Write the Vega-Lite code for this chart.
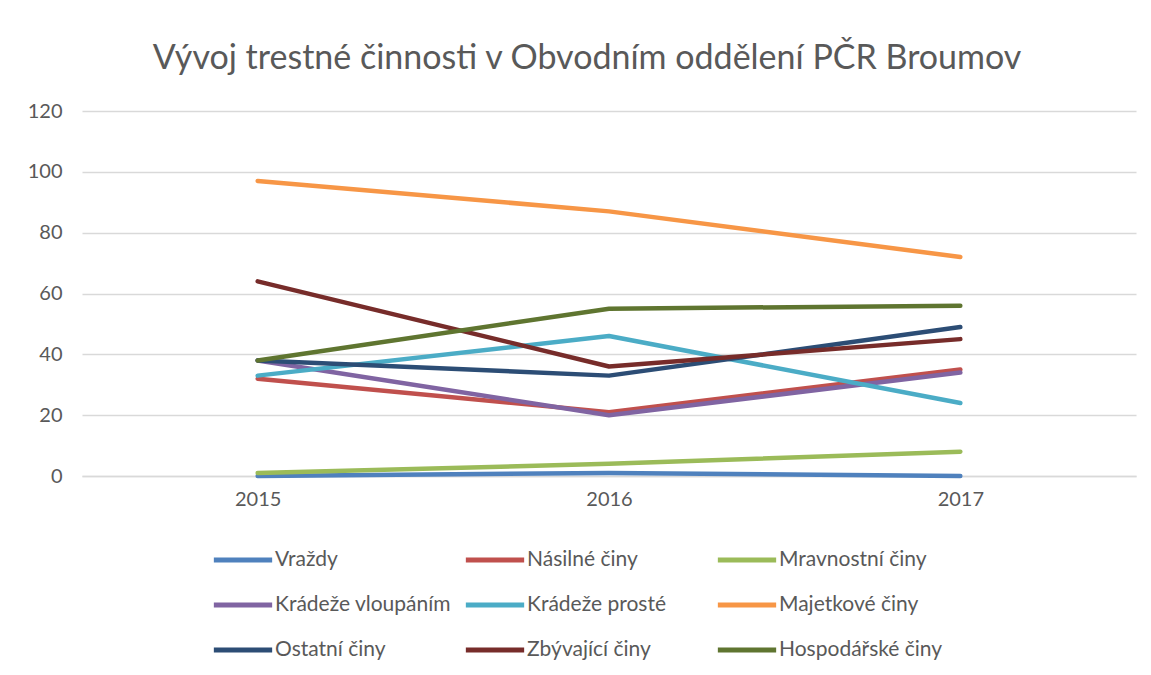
{
  "$schema": "https://vega.github.io/schema/vega-lite/v6.json",
  "autosize": "none",
  "width": 1054,
  "height": 365,
  "padding": {"left": 82, "top": 111, "right": 15, "bottom": 199},
  "background": "white",
  "config": {
    "font": "Lato",
    "view": {"stroke": null}
  },
  "title": {
    "text": "Vývoj trestné činnosti v Obvodním oddělení PČR Broumov",
    "fontSize": 34,
    "fontWeight": "normal",
    "color": "#595959",
    "anchor": "middle",
    "dx": -22,
    "offset": 25,
    "font": "Lato"
  },
  "data": {
    "values": [
      {"rok": "2015", "druh": "Vraždy", "pocet": 0},
      {"rok": "2016", "druh": "Vraždy", "pocet": 1},
      {"rok": "2017", "druh": "Vraždy", "pocet": 0},
      {"rok": "2015", "druh": "Násilné činy", "pocet": 32},
      {"rok": "2016", "druh": "Násilné činy", "pocet": 21},
      {"rok": "2017", "druh": "Násilné činy", "pocet": 35},
      {"rok": "2015", "druh": "Mravnostní činy", "pocet": 1},
      {"rok": "2016", "druh": "Mravnostní činy", "pocet": 4},
      {"rok": "2017", "druh": "Mravnostní činy", "pocet": 8},
      {"rok": "2015", "druh": "Krádeže vloupáním", "pocet": 38},
      {"rok": "2016", "druh": "Krádeže vloupáním", "pocet": 20},
      {"rok": "2017", "druh": "Krádeže vloupáním", "pocet": 34},
      {"rok": "2015", "druh": "Krádeže prosté", "pocet": 33},
      {"rok": "2016", "druh": "Krádeže prosté", "pocet": 46},
      {"rok": "2017", "druh": "Krádeže prosté", "pocet": 24},
      {"rok": "2015", "druh": "Majetkové činy", "pocet": 97},
      {"rok": "2016", "druh": "Majetkové činy", "pocet": 87},
      {"rok": "2017", "druh": "Majetkové činy", "pocet": 72},
      {"rok": "2015", "druh": "Ostatní činy", "pocet": 38},
      {"rok": "2016", "druh": "Ostatní činy", "pocet": 33},
      {"rok": "2017", "druh": "Ostatní činy", "pocet": 49},
      {"rok": "2015", "druh": "Zbývající činy", "pocet": 64},
      {"rok": "2016", "druh": "Zbývající činy", "pocet": 36},
      {"rok": "2017", "druh": "Zbývající činy", "pocet": 45},
      {"rok": "2015", "druh": "Hospodářské činy", "pocet": 38},
      {"rok": "2016", "druh": "Hospodářské činy", "pocet": 55},
      {"rok": "2017", "druh": "Hospodářské činy", "pocet": 56}
    ]
  },
  "mark": {"type": "line", "strokeWidth": 4.5, "strokeCap": "round", "strokeJoin": "round"},
  "encoding": {
    "x": {
      "field": "rok",
      "type": "ordinal",
      "scale": {"type": "point", "padding": 0.5},
      "axis": {
        "title": null,
        "labelAngle": 0,
        "labelFontSize": 20,
        "labelColor": "#595959",
        "labelPadding": 13,
        "ticks": false,
        "domainColor": "#d9d9d9",
        "domainWidth": 1.5,
        "grid": false
      }
    },
    "y": {
      "field": "pocet",
      "type": "quantitative",
      "scale": {"domain": [0, 120], "nice": false},
      "axis": {
        "title": null,
        "values": [0, 20, 40, 60, 80, 100, 120],
        "labelFontSize": 20,
        "labelColor": "#595959",
        "labelPadding": 20,
        "ticks": false,
        "domain": false,
        "gridColor": "#d9d9d9",
        "gridWidth": 1.5
      }
    },
    "color": {
      "field": "druh",
      "type": "nominal",
      "sort": ["Vraždy", "Násilné činy", "Mravnostní činy", "Krádeže vloupáním", "Krádeže prosté", "Majetkové činy", "Ostatní činy", "Zbývající činy", "Hospodářské činy"],
      "scale": {
        "domain": ["Vraždy", "Násilné činy", "Mravnostní činy", "Krádeže vloupáním", "Krádeže prosté", "Majetkové činy", "Ostatní činy", "Zbývající činy", "Hospodářské činy"],
        "range": ["#4F81BD", "#C0504D", "#9BBB59", "#8064A2", "#4BACC6", "#F79646", "#2C4D75", "#772C2A", "#5F7530"]
      },
      "legend": {
        "title": null,
        "orient": "none",
        "legendX": 129,
        "legendY": 417,
        "direction": "horizontal",
        "columns": 3,
        "gridAlign": "all",
        "symbolType": "stroke",
        "symbolSize": 3400,
        "symbolStrokeWidth": 5,
        "labelFontSize": 21,
        "labelColor": "#595959",
        "labelOffset": 0,
        "labelLimit": 300,
        "columnPadding": 3,
        "rowPadding": 3
      }
    },
    "order": {"field": "druh"}
  }
}
